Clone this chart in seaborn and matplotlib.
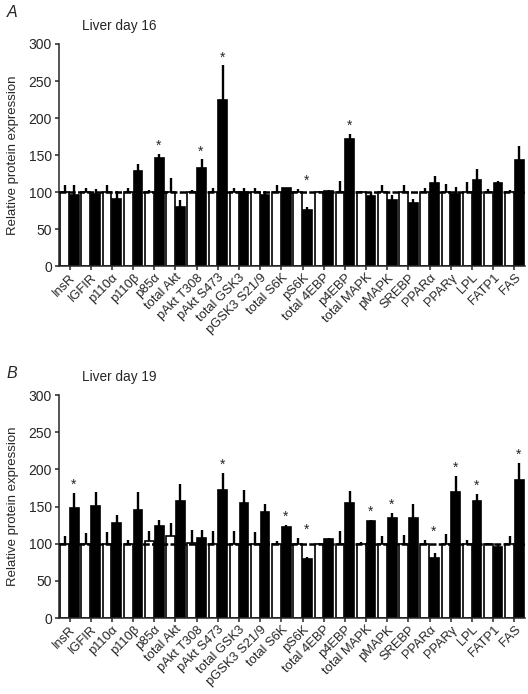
"""
Liver protein expression, day 16 and day 19 (control vs treated).
"""
import matplotlib
matplotlib.use('Agg')
import matplotlib.pyplot as plt
import pandas as pd
import seaborn as sns

proteins = ['InsR', 'IGFIR', 'p110α', 'p110β', 'p85α', 'total Akt', 'pAkt T308',
            'pAkt S473', 'total GSK3', 'pGSK3 S21/9', 'total S6K', 'pS6K',
            'total 4EBP', 'p4EBP', 'total MAPK', 'pMAPK', 'SREBP', 'PPARα',
            'PPARγ', 'LPL', 'FATP1', 'FAS']

# day 16
ctrl16 = [100] * 22
ctrl16_err = [10, 5, 10, 5, 3, 19, 3, 5, 5, 6, 9, 4, 1, 15, 1, 10, 10, 5, 11, 13, 4, 3]
trt16 = [96, 97, 90, 128, 146, 80, 133, 224, 100, 96, 105, 76, 102, 172, 95, 89, 85,
         112, 97, 116, 112, 143]
trt16_err = [14, 7, 12, 10, 6, 9, 11, 47, 5, 6, 1, 4, 1, 6, 5, 7, 5, 10, 10, 15, 3, 19]
sig16 = ['p85α', 'pAkt T308', 'pAkt S473', 'pS6K', 'p4EBP']

# day 19
ctrl19 = [100, 100, 100, 100, 103, 110, 101, 100, 100, 100, 100, 100, 100, 100, 100,
          100, 100, 100, 100, 100, 100, 100]
ctrl19_err = [10, 15, 16, 5, 14, 18, 17, 17, 17, 16, 4, 8, 1, 17, 2, 11, 12, 5, 13, 5, 1, 10]
trt19 = [148, 151, 128, 145, 124, 157, 108, 172, 155, 142, 122, 80, 106, 155, 131, 134,
         134, 81, 170, 157, 96, 186]
trt19_err = [20, 19, 10, 24, 8, 23, 11, 23, 17, 11, 3, 2, 1, 16, 1, 7, 20, 7, 21, 10, 4, 23]
sig19 = ['InsR', 'pAkt S473', 'total S6K', 'pS6K', 'total MAPK', 'pMAPK', 'PPARα',
         'PPARγ', 'LPL', 'FAS']

sns.set_theme(style='ticks')
plt.rcParams['font.family'] = ['Liberation Sans', 'DejaVu Sans']
plt.rcParams['axes.linewidth'] = 1.1


def draw_panel(ax, ctrl, ctrl_err, trt, trt_err, sig, title):
    df = pd.DataFrame({
        'protein': proteins * 2,
        'group': ['Control'] * len(proteins) + ['Treated'] * len(proteins),
        'value': list(ctrl) + list(trt),
    })
    sns.barplot(data=df, x='protein', y='value', hue='group', order=proteins,
                palette=['white', 'black'], edgecolor='black', linewidth=1.2,
                width=0.92, gap=0.1, errorbar=None, legend=False, ax=ax, zorder=2)

    # one-sided (upper) error bars
    tops = {}
    for cont, errs in zip(ax.containers, [ctrl_err, trt_err]):
        for name, p, e in zip(proteins, cont.patches, errs):
            x = p.get_x() + p.get_width() / 2
            h = p.get_height()
            ax.vlines(x, h, h + e, color='black', lw=1.7, zorder=3)
            tops[name] = max(tops.get(name, 0), h + e)

    ax.axhline(100, color='black', lw=1.8, ls=(0, (2.8, 0.9)), zorder=4)

    for name in sig:
        i = proteins.index(name)
        ax.text(i + 0.2, tops[name] + 11, '*', ha='center', va='center', fontsize=10)

    ax.set_xlim(-0.5, len(proteins) - 0.5)
    ax.set_ylim(0, 300)
    ax.set_yticks(range(0, 301, 50))
    ax.set_xlabel('')
    ax.set_ylabel('Relative protein expression', fontsize=9.5)
    ax.yaxis.set_label_coords(-0.085, 0.5)
    ax.tick_params(axis='y', labelsize=10, length=3, width=1.1, pad=2)
    ax.tick_params(axis='x', labelsize=9.3, length=3, width=1.1, pad=1)
    plt.setp(ax.get_xticklabels(), rotation=45, ha='right', rotation_mode='anchor')
    sns.despine(ax=ax)
    ax.text(0.049, 1.08, title, transform=ax.transAxes, fontsize=9.8, va='center')


fig = plt.figure(figsize=(5.28, 6.94), dpi=100)
ax1 = fig.add_axes([0.1117, 0.6167, 0.8826, 0.3199])
ax2 = fig.add_axes([0.1117, 0.1095, 0.8826, 0.3213])

draw_panel(ax1, ctrl16, ctrl16_err, trt16, trt16_err, sig16, 'Liver day 16')
draw_panel(ax2, ctrl19, ctrl19_err, trt19, trt19_err, sig19, 'Liver day 19')

fig.text(0.013, 0.993, 'A', fontsize=11.5, style='italic', va='top')
fig.text(0.013, 0.473, 'B', fontsize=11.5, style='italic', va='top')

fig.savefig('out.png', dpi=100)
